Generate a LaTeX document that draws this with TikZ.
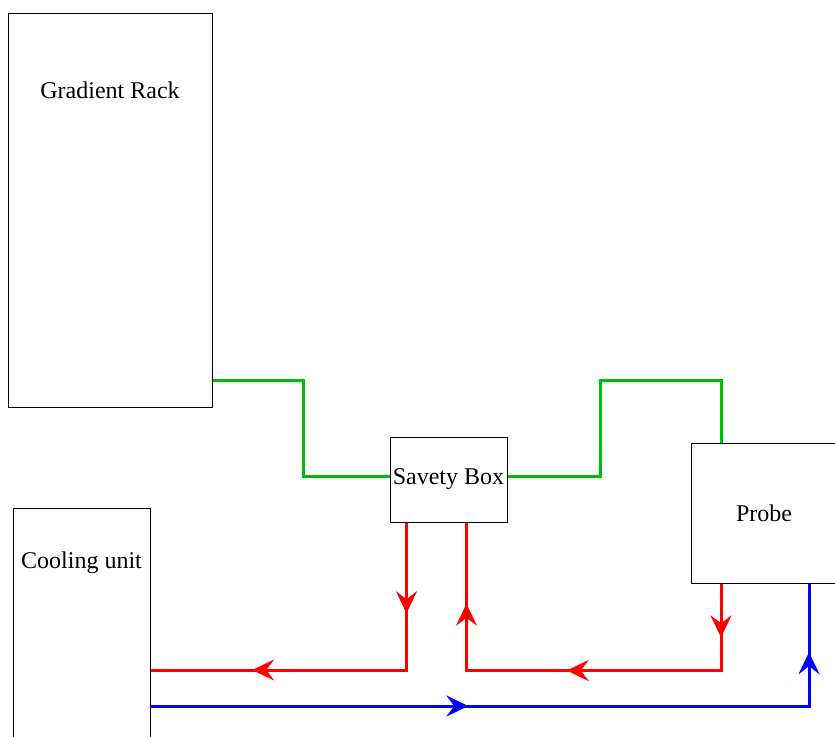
\documentclass[tikz,border=0pt]{standalone}
\usepackage{fontspec}
\setmainfont{Liberation Serif}
\usetikzlibrary{arrows.meta,decorations.markings}
\definecolor{pipegreen}{RGB}{0,190,0}
\begin{document}
\begin{tikzpicture}[
    x=0.5pt, y=-0.5pt,
    every node/.style={font=\fontsize{12}{14}\selectfont},
    unit/.style={
        rectangle,
        draw=black,
        line width=0.5pt,
        inner sep=0pt
    },
    signal/.style={
        draw=pipegreen,
        line width=1.5pt
    },
    coolant/.style={
        draw=#1,
        line width=1.5pt
    },
    flowtip/.tip={Stealth[length=11pt, width=10.5pt, inset=4pt]},
    arrowat/.style={
        postaction={decorate, decoration={markings,
            mark=at position #1 with {\arrow{flowtip}}}}
    }
]
    \useasboundingbox (0,0) rectangle (835,736);
    \clip (0,0) rectangle (835,736);

    % Units
    \node[unit, minimum width=102pt, minimum height=197pt] (rack) at (110,210) {};
    \node (racklabel) at (110,90) {Gradient Rack};
    \node[unit, minimum width=68.5pt, minimum height=140pt] (cooling) at (81.5,648) {};
    \node (coolinglabel) at (81.5,563) {Cooling unit};
    \node[unit, minimum width=58.5pt, minimum height=42.5pt] (savety) at (448.5,479.5) {Savety Box};
    \node[unit, minimum width=73pt, minimum height=70pt, text depth=-1pt] (probe) at (764,513) {Probe};

    % Green connections
    \draw[signal] ([yshift=13.5pt]rack.south east) -- ++(45.5pt,0) |- ([yshift=1.75pt]savety.west);
    \draw[signal] ([yshift=1.75pt]savety.east) -- ++(46.5pt,0) -- ++(0,48pt) -| ([xshift=-21.5pt]probe.north);

    % Red return lines
    \draw[coolant=red, arrowat=0.225, arrowat=0.748]
        ([xshift=-21pt]savety.south) |- ([yshift=-11pt]cooling.east);
    \draw[coolant=red, arrowat=0.11, arrowat=0.493, arrowat=0.834]
        ([xshift=-21.5pt]probe.south) -- ++(0,-43.5pt) -| ([xshift=9pt]savety.south);

    % Blue supply line
    \draw[coolant=blue, arrowat=0.407, arrowat=0.912]
        ([yshift=-29pt]cooling.east) -| ([xshift=22.5pt]probe.south);
\end{tikzpicture}
\end{document}
